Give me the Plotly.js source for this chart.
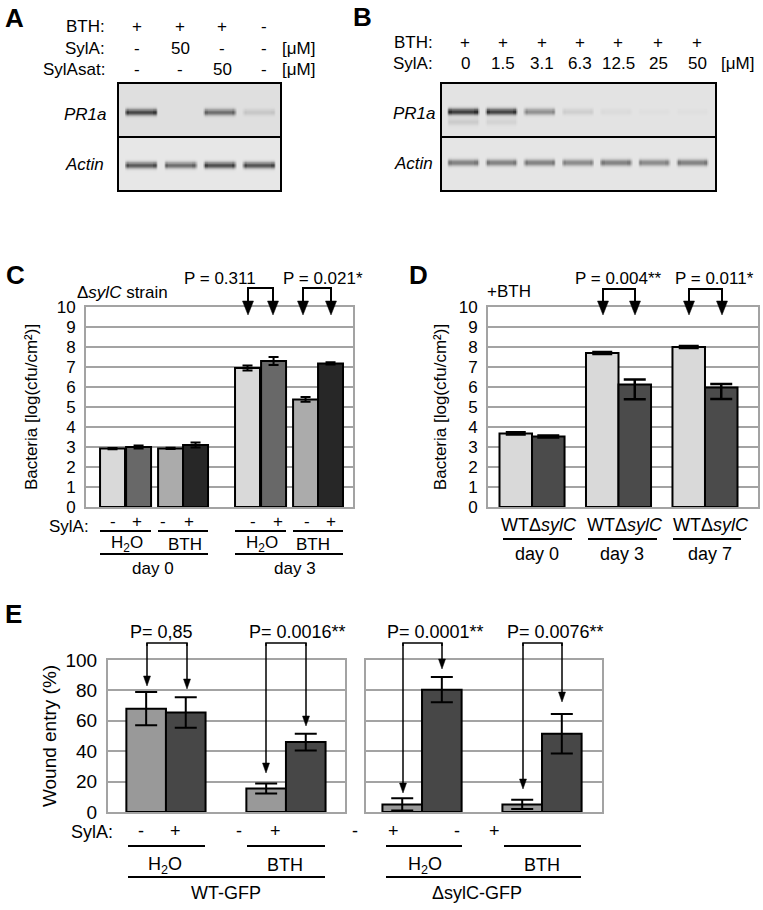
<!DOCTYPE html>
<html><head><meta charset="utf-8">
<script src="https://cdn.plot.ly/plotly-3.0.1.min.js"></script>
<style>body{margin:0;background:#fff}#chart{width:763px;height:910px}</style>
</head><body><div id="chart"></div>
<script>
// ===== DATA =====
// Panel A (gel, relative band intensity per lane)
const gelABth = ['+', '+', '+', '-'];
const gelASylA = ['-', '50', '-', '-'];
const gelASylAsat = ['-', '-', '50', '-'];
const gelAPR1a = [0.78, 0.0, 0.58, 0.12];
const gelAActin = [0.72, 0.62, 0.78, 0.75];
// Panel B
const gelBBth = ['+', '+', '+', '+', '+', '+', '+'];
const gelBSylA = ['0', '1.5', '3.1', '6.3', '12.5', '25', '50'];
const gelBPR1a = [0.85, 0.82, 0.42, 0.1, 0.04, 0.02, 0.02];
const gelBPR1aLower = [0.12, 0.08, 0.0, 0.0, 0.0, 0.0, 0.0];
const gelBActin = [0.5, 0.5, 0.5, 0.45, 0.5, 0.45, 0.5];
// Panel C (ΔsylC strain, log cfu/cm2)
const cDays = ['day 0', 'day 3'];
const cH2OMinus = [2.92, 6.95], cH2OMinusErr = [0.03, 0.12];
const cH2OPlus = [3.0, 7.3], cH2OPlusErr = [0.08, 0.2];
const cBTHMinus = [2.93, 5.38], cBTHMinusErr = [0.03, 0.12];
const cBTHPlus = [3.1, 7.18], cBTHPlusErr = [0.13, 0.06];
const cSylASigns = ['-', '+', '-', '+', '-', '+', '-', '+'];
const cTreatments = ['H<sub>2</sub>O', 'BTH', 'H<sub>2</sub>O', 'BTH'];
const cPValues = ['P = 0.311', 'P = 0.021*'];
// Panel D (+BTH)
const dDays = ['day 0', 'day 3', 'day 7'];
const dWT = [3.68, 7.7, 8.0], dWTErr = [0.06, 0.05, 0.05];
const dSylC = [3.52, 6.13, 5.97], dSylCErrPlus = [0.05, 0.25, 0.18], dSylCErrMinus = [0.05, 0.74, 0.57];
const dPValues = ['P = 0.004**', 'P = 0.011*'];
// Panel E (wound entry %)
const eTreat = ['H2O', 'BTH'];
const eWTMinus = [68, 15.5], eWTMinusErr = [11, 3.3];
const eWTPlus = [65.5, 46], eWTPlusErr = [10, 5.5];
const eSylCFirst = [5, 5], eSylCFirstErr = [4, 3];
const eSylCSecond = [80.5, 51.5], eSylCSecondErr = [8.3, 13];
const eSylASigns = ['-', '+', '-', '+', '-', '+', '-', '+'];
const ePValues = ['P= 0,85', 'P= 0.0016**', 'P= 0.0001**', 'P= 0.0076**'];

// ===== LAYOUT HELPERS =====
const W = 763, H = 910;
const PX = x => x / W, PY = y => 1 - y / H;
const FONT = 'Liberation Sans, Arial, sans-serif';
const ann = [], shp = [];
function txt(text, x, y, size, opts) {
  ann.push(Object.assign({xref: 'paper', yref: 'paper', x: PX(x), y: PY(y), text: text, showarrow: false,
    xanchor: 'center', yanchor: 'middle', font: {family: FONT, size: size, color: '#000'}}, opts || {}));
}
function hline(x0, x1, y, w) {
  shp.push({type: 'line', xref: 'paper', yref: 'paper', x0: PX(x0), x1: PX(x1), y0: PY(y), y1: PY(y),
    line: {color: '#000', width: w || 2}});
}
function arrowDown(x, top, tip, w, hw, hl) {
  shp.push({type: 'line', xref: 'paper', yref: 'paper', x0: PX(x), x1: PX(x), y0: PY(top), y1: PY(tip - hl + 1),
    line: {color: '#000', width: w}});
  shp.push({type: 'path', xref: 'paper', yref: 'paper',
    path: `M${PX(x - hw / 2)},${PY(tip - hl)} L${PX(x + hw / 2)},${PY(tip - hl)} L${PX(x)},${PY(tip)} Z`,
    fillcolor: '#000', line: {color: '#000', width: 0.5}});
}
function bracket(xl, xr, top, tipL, tipR, w, hw, hl) {
  shp.push({type: 'path', xref: 'paper', yref: 'paper',
    path: `M${PX(xl)},${PY(top + 3)} L${PX(xl)},${PY(top)} L${PX(xr)},${PY(top)} L${PX(xr)},${PY(top + 3)}`,
    line: {color: '#000', width: w}});
  arrowDown(xl, top, tipL, w, hw, hl);
  arrowDown(xr, top, tipR, w, hw, hl);
}

// ===== GELS =====
function gelTrace(pr, act, n, xa, ya, bgTop, bgBot, cTop, cBot, lower) {
  const xs = [], ys = [];
  for (let i = 0; i <= Math.round((n + 0.2) / 0.02); i++) xs.push(-0.6 + i * 0.02);
  for (let j = 0; j <= 200; j++) ys.push(j * 0.01);
  const z = ys.map(y => xs.map(x => {
    const top = y < 1;
    const vals = top ? pr : act;
    const base = top ? bgTop : bgBot;
    const yc = top ? cTop : 1 + cBot;
    const lane = Math.round(x);
    if (lane < 0 || lane >= n) return base;
    const dx = Math.abs(x - lane);
    const fx = dx < 0.36 ? 1 : (dx < 0.44 ? (0.44 - dx) / 0.08 : 0);
    const edge = dx > 0.3 && dx < 0.4 ? 1.12 : 1;
    let v = base + vals[lane] * fx * edge * Math.exp(-Math.pow((y - yc) / 0.06, 2));
    if (top && lower) v += lower[lane] * fx * Math.exp(-Math.pow((y - cTop - 0.19) / 0.07, 2));
    return v;
  }));
  return {type: 'heatmap', x: xs, y: ys, z: z, xaxis: xa, yaxis: ya, zmin: 0, zmax: 1,
    colorscale: [[0, '#ededed'], [1, '#2a2a2a']], showscale: false, zsmooth: 'best', hoverinfo: 'skip'};
}

const traces = [];
traces.push(gelTrace(gelAPR1a, gelAActin, 4, 'x', 'y', 0.07, 0.03, 0.53, 0.53, null));
traces.push(gelTrace(gelBPR1a, gelBActin, 7, 'x2', 'y2', 0.05, 0.04, 0.52, 0.48, gelBPR1aLower));

// ===== PANEL C BARS =====
const cW = 0.185;
const cSeries = [
  [cH2OMinus, cH2OMinusErr, '#d9d9d9', -0.4],
  [cH2OPlus, cH2OPlusErr, '#686868', -0.207],
  [cBTHMinus, cBTHMinusErr, '#ababab', 0.03],
  [cBTHPlus, cBTHPlusErr, '#272727', 0.215]
];
cSeries.forEach(([v, e, col, off]) => traces.push({type: 'bar', x: cDays, y: v, xaxis: 'x3', yaxis: 'y3',
  width: cW, offset: off, marker: {color: col, line: {color: '#000', width: 2}},
  error_y: {type: 'data', array: e, visible: true, color: '#000', thickness: 2, width: 5}, hoverinfo: 'y'}));

// ===== PANEL D BARS =====
const dWd = 0.376;
traces.push({type: 'bar', x: dDays, y: dWT, xaxis: 'x4', yaxis: 'y4', width: dWd, offset: -dWd,
  marker: {color: '#d9d9d9', line: {color: '#000', width: 2}},
  error_y: {type: 'data', array: dWTErr, visible: true, color: '#000', thickness: 2.5, width: 10}});
traces.push({type: 'bar', x: dDays, y: dSylC, xaxis: 'x4', yaxis: 'y4', width: dWd, offset: 0,
  marker: {color: '#4b4b4b', line: {color: '#000', width: 2}},
  error_y: {type: 'data', symmetric: false, array: dSylCErrPlus, arrayminus: dSylCErrMinus, visible: true,
    color: '#000', thickness: 2.5, width: 11}});

// ===== PANEL E BARS =====
const eWd = 0.33;
[[eWTMinus, eWTMinusErr, '#999999', -eWd, 'x5', 'y5'], [eWTPlus, eWTPlusErr, '#474747', 0, 'x5', 'y5'],
 [eSylCFirst, eSylCFirstErr, '#999999', -eWd, 'x6', 'y6'], [eSylCSecond, eSylCSecondErr, '#474747', 0, 'x6', 'y6']]
  .forEach(([v, e, col, off, xa, ya]) => traces.push({type: 'bar', x: eTreat, y: v, xaxis: xa, yaxis: ya,
    width: eWd, offset: off, marker: {color: col, line: {color: '#000', width: 2}},
    error_y: {type: 'data', array: e, visible: true, color: '#000', thickness: 2, width: 11}}));

// ===== TEXT & DECORATIONS =====
// panel letters
txt('<b>A</b>', 14, 18, 26); txt('<b>B</b>', 362, 17, 26); txt('<b>C</b>', 15, 275, 26);
txt('<b>D</b>', 418, 275, 26); txt('<b>E</b>', 13, 614, 26);
// A header
const aCols = [137, 180, 222, 264];
txt('BTH:', 107, 26, 17, {xanchor: 'right'}); txt('SylA:', 107, 48, 17, {xanchor: 'right'});
txt('SylAsat:', 107, 70, 17, {xanchor: 'right'});
aCols.forEach((x, i) => { txt(gelABth[i], x, 26, 17); txt(gelASylA[i], x, 48, 17); txt(gelASylAsat[i], x, 70, 17); });
txt('[μM]', 298, 48, 17); txt('[μM]', 298, 70, 17);
txt('<i>PR1a</i>', 85, 114, 17); txt('<i>Actin</i>', 84, 164, 17);
// B header
const bCols = [465, 503, 542, 580, 618, 658, 697];
txt('BTH:', 435, 42, 17, {xanchor: 'right'}); txt('SylA:', 435, 64, 17, {xanchor: 'right'});
bCols.forEach((x, i) => { txt(gelBBth[i], x, 42, 17); txt(gelBSylA[i], x, 64, 17); });
txt('[μM]', 737, 64, 17);
txt('<i>PR1a</i>', 414, 113, 17); txt('<i>Actin</i>', 413, 163, 17);
// gel dividers
[['x', 'y'], ['x2', 'y2']].forEach(([xa, ya]) => shp.push({type: 'line', xref: xa + ' domain', yref: ya,
  x0: 0, x1: 1, y0: 1, y1: 1, line: {color: '#000', width: 2}}));

// C decorations
txt('Δ<i>sylC</i> strain', 122, 292, 17);
txt(cPValues[0], 220, 278, 17); txt(cPValues[1], 323, 278, 17);
bracket(248, 273, 288, 315, 315, 2, 11, 14);
bracket(303, 331, 288, 315, 315, 2, 11, 14);
txt('SylA:', 91, 526, 17, {xanchor: 'right'});
[113, 137, 163, 189, 253, 278, 307, 331].forEach((x, i) => txt(cSylASigns[i], x, 521, 17));
[[100, 151], [158, 208], [235, 286], [293, 343]].forEach(([a, b]) => hline(a, b, 531));
[127, 185, 262, 313].forEach((x, i) => txt(cTreatments[i], x, 544, 17));
hline(100, 208, 554); hline(235, 343, 554);
txt(cDays[0], 153, 568, 17); txt(cDays[1], 295, 568, 17);

// D decorations
txt('+BTH', 509, 291, 17);
txt(dPValues[0], 618, 278, 17); txt(dPValues[1], 714, 278, 17);
bracket(603, 635, 289, 315, 315, 2, 11, 14);
bracket(689, 722, 289, 315, 315, 2, 11, 14);
[539, 625, 711].forEach(x => txt('WTΔ<i>sylC</i>', x, 525, 18));
[[503, 572], [588, 657], [673, 741]].forEach(([a, b]) => hline(a, b, 539));
[537, 622, 710].forEach((x, i) => txt(dDays[i], x, 554, 18));

// E decorations
txt(ePValues[0], 161, 632, 18); txt(ePValues[1], 297, 632, 18);
txt(ePValues[2], 435, 632, 18); txt(ePValues[3], 555, 632, 18);
bracket(147, 187, 643, 686, 689, 1.5, 7, 10);
bracket(266, 306, 643, 773, 726, 1.5, 7, 10);
bracket(403, 442, 643, 793, 669, 1.5, 7, 10);
bracket(523, 562, 643, 789, 702, 1.5, 7, 10);
txt('SylA:', 115, 832, 18, {xanchor: 'right'});
[141, 175, 239, 275, 355, 393, 457, 494].forEach((x, i) => txt(eSylASigns[i], x, 831, 18));
[[128, 205], [247, 325], [386, 462], [504, 581]].forEach(([a, b]) => hline(a, b, 846));
txt('H<sub>2</sub>O', 165, 865, 18); txt('BTH', 285, 865, 18);
txt('H<sub>2</sub>O', 425, 865, 18); txt('BTH', 542, 865, 18);
hline(128, 325, 877); hline(386, 581, 877);
txt('WT-GFP', 226, 893, 18); txt('ΔsylC-GFP', 477, 893, 18);

// ===== AXES =====
const GRAY = '#a3a3a3';
function gelAx(x0, x1, r) {
  return {domain: [PX(x0), PX(x1)], range: r, showgrid: false, zeroline: false, showticklabels: false,
    showline: true, mirror: true, linecolor: '#000', linewidth: 2, ticks: '', fixedrange: true};
}
function gelAy() {
  return {domain: [PY(190), PY(84)], range: [2, 0], showgrid: false, zeroline: false, showticklabels: false,
    showline: true, mirror: true, linecolor: '#000', linewidth: 2, ticks: '', fixedrange: true};
}
function barX(x0, x1, r) {
  return {domain: [PX(x0), PX(x1)], type: 'category', range: r, showgrid: false, zeroline: false,
    showticklabels: false, showline: true, mirror: true, linecolor: GRAY, linewidth: 2, ticks: ''};
}
function barY(y0, y1, r, dt, size, title, showLabels, standoff) {
  return {domain: [PY(y1), PY(y0)], range: r, dtick: dt, showgrid: true, gridcolor: GRAY, gridwidth: 2,
    zeroline: false, showline: true, mirror: true, linecolor: GRAY, linewidth: 2, ticks: '',
    showticklabels: showLabels, ticklabelstandoff: 5,
    tickfont: {family: FONT, size: size, color: '#000'},
    title: title ? {text: title, font: {family: FONT, size: size, color: '#000'}, standoff: standoff} : undefined};
}

const layout = {
  width: W, height: H, margin: {l: 0, r: 0, t: 0, b: 0}, paper_bgcolor: '#fff', plot_bgcolor: '#fff',
  showlegend: false, barmode: 'overlay', font: {family: FONT, color: '#000'},
  xaxis: gelAx(119, 280, [-0.56, 3.54]), yaxis: gelAy(),
  xaxis2: gelAx(442, 715, [-0.55, 6.6]), yaxis2: gelAy(),
  xaxis3: barX(86, 353, [-0.504, 1.474]),
  yaxis3: barY(307, 507, [0, 10], 1, 17, 'Bacteria [log(cfu/cm²)]', true, 15),
  xaxis4: barX(488, 758, [-0.509, 2.613]),
  yaxis4: barY(307, 507, [0, 10], 1, 17, 'Bacteria [log(cfu/cm²)]', true, 8),
  xaxis5: barX(108, 345, [-0.483, 1.492]),
  yaxis5: barY(660, 812, [0, 100], 20, 19, 'Wound entry (%)', true, 4),
  xaxis6: barX(366, 602, [-0.467, 1.5]),
  yaxis6: barY(660, 812, [0, 100], 20, 19, null, false, 0),
  annotations: ann, shapes: shp
};
['xaxis3', 'xaxis4', 'xaxis5', 'xaxis6'].forEach((k, i) => layout[k].anchor = 'y' + (i + 3));
['yaxis3', 'yaxis4', 'yaxis5', 'yaxis6'].forEach((k, i) => layout[k].anchor = 'x' + (i + 3));
layout.xaxis.anchor = 'y'; layout.yaxis.anchor = 'x'; layout.xaxis2.anchor = 'y2'; layout.yaxis2.anchor = 'x2';

Plotly.newPlot('chart', traces, layout, {staticPlot: true, displayModeBar: false});
</script>
</body></html>
